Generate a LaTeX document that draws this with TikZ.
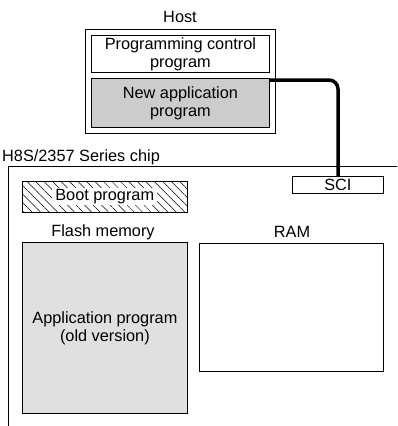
\documentclass[tikz,border=0pt]{standalone}
\usepackage{fontspec}
\setmainfont{Liberation Sans}
\usetikzlibrary{patterns.meta}
\begin{document}
\begin{tikzpicture}[x=1pt,y=-1pt,
  every node/.style={font=\fontsize{16.3}{17.8}\selectfont, inner sep=0pt},
  box/.style={draw=black, line width=0.8pt, anchor=north west, align=center},
  lbl/.style={text=black}]
\useasboundingbox (0,0) rectangle (397,426);
\begin{scope}
\clip (0,0) rectangle (397,426);
\node[box, minimum width=420pt, minimum height=280pt] (chip) at (8,166) {};
\end{scope}
\node[lbl, anchor=west] (chiplbl) at (2,157) {H8S/2357 Series chip};
\node[lbl] (hostlbl) at (180,17) {Host};
\node[box, minimum width=190pt, minimum height=104pt] (host) at (85,29) {};
\node[box, minimum width=178pt, minimum height=37pt] (pcp) at (91,35) {Programming control\\program};
\node[box, fill=black!20, minimum width=178pt, minimum height=49pt] (nap) at (91,78) {New application\\program};
\node[box, fill=white, minimum width=91pt, minimum height=17pt] (sci) at (292,176) {SCI};
\node[box, pattern={Lines[angle=-45,distance=6pt,line width=0.5pt]}, minimum width=165pt, minimum height=31pt] (boot) at (22,181) {};
\node[fill=white, inner xsep=3pt, inner ysep=1pt] (bootlbl) at (boot.center) {Boot program};
\node[lbl] (flashlbl) at (103,232) {Flash memory};
\node[box, fill=black!12, minimum width=165pt, minimum height=171pt] (flash) at (22,242) {};
\node[align=center] (applbl) at (flash.center) {Application program\\(old version)};
\node[lbl] (ramlbl) at (292,232) {RAM};
\node[box, minimum width=184pt, minimum height=128pt] (ram) at (199,243) {};
\coordinate (bend) at (338,80);
\draw[line width=3.5pt, rounded corners=9pt] (nap.east |- 0,80) -- (bend) -- (bend |- sci.north);
\end{tikzpicture}
\end{document}
